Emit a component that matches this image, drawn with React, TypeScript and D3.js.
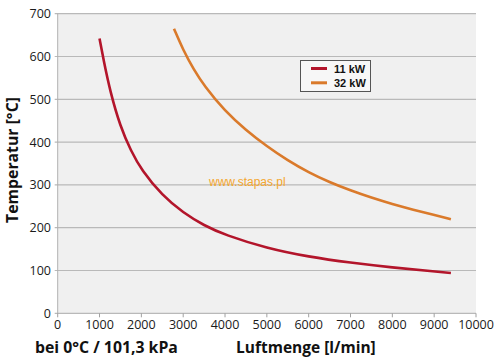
import React from 'react';
import * as d3 from 'd3';

// values
const flow11 = [1000, 1100, 1250, 1500, 1750, 2000, 2500, 3000, 3500, 4000, 5000, 6000, 7000, 8000, 9000, 9400];
const temp11 = [642, 590, 520, 435, 380, 335, 275, 235, 205, 183, 152, 132, 118, 107, 98, 94];
const flow32 = [2780, 3000, 3250, 3500, 4000, 4500, 5000, 5500, 6000, 6500, 7000, 7500, 8000, 8500, 9000, 9400];
const temp32 = [665, 615, 570, 532, 472, 428, 390, 357, 329, 306, 287, 270, 255, 242, 230, 220];
const xTicks = [0, 1000, 2000, 3000, 4000, 5000, 6000, 7000, 8000, 9000, 10000];
const yTicks = [0, 100, 200, 300, 400, 500, 600, 700];
const seriesNames = ['11 kW', '32 kW'];
const seriesColors = ['#b3152b', '#da7a2b'];

const W = 500, H = 362;
const left = 57.7, right = 476, top = 13.7, bottom = 313.3;
const font = "'Open Sans', sans-serif";
const arial = "Arial, 'Liberation Sans', sans-serif";

export default function App() {
  const x = d3.scaleLinear().domain([0, 10000]).range([left, right]);
  const y = d3.scaleLinear().domain([0, 700]).range([bottom, top]);

  const line = d3.line<[number, number]>()
    .x(d => x(d[0]))
    .y(d => y(d[1]))
    .curve(d3.curveBasis);

  const series = [
    flow11.map((q, i) => [q, temp11[i]] as [number, number]),
    flow32.map((q, i) => [q, temp32[i]] as [number, number]),
  ];

  return (
    <svg width={W} height={H} style={{ position: 'absolute', left: 0, top: 0, background: '#fff' }}>
      <rect x={left} y={top} width={right - left} height={bottom - top} fill="#f0f0f0" />
      {yTicks.map(t => (
        <g key={t}>
          <line x1={left - 3} x2={right} y1={y(t)} y2={y(t)} stroke="#b9b9b9" strokeWidth={1.2} />
          <text x={51} y={y(t) + 4.5} textAnchor="end" fontFamily={font} fontSize={12.5} fill="#1a1a1a">{t}</text>
        </g>
      ))}
      <line x1={left} x2={left} y1={top} y2={bottom} stroke="#b0b0b0" strokeWidth={1} />
      {xTicks.map(t => (
        <g key={t}>
          <line x1={x(t)} x2={x(t)} y1={bottom} y2={bottom + 4} stroke="#a0a0a0" strokeWidth={1} />
          <text x={x(t)} y={329} textAnchor="middle" fontFamily={font} fontSize={12.5} fill="#1a1a1a">{t}</text>
        </g>
      ))}

      <text x={209} y={186} fontFamily={arial} fontSize={12} fill="#f4a62e">www.stapas.pl</text>

      {series.map((s, i) => (
        <path key={i} d={line(s) || ''} fill="none" stroke={seriesColors[i]} strokeWidth={2.6} />
      ))}

      <rect x={300.5} y={60.5} width={70} height={31} fill="#f7f7f7" stroke="#555" strokeWidth={1} />
      {seriesNames.map((n, i) => (
        <g key={n}>
          <line x1={311} x2={327} y1={68.5 + i * 14.3} y2={68.5 + i * 14.3} stroke={seriesColors[i]} strokeWidth={3} />
          <text x={334} y={72.5 + i * 14.3} fontFamily={arial} fontWeight="bold" fontSize={11} fill="#111">{n}</text>
        </g>
      ))}

      <text transform="translate(18,160) rotate(-90)" textAnchor="middle" fontFamily={font} fontWeight="bold" fontSize={15.8} fill="#111">Temperatur [°C]</text>
      <text x={35} y={353} fontFamily={font} fontWeight="bold" fontSize={15.8} fill="#111">bei 0°C / 101,3 kPa</text>
      <text x={236} y={353} fontFamily={font} fontWeight="bold" fontSize={15.5} fill="#111">Luftmenge [l/min]</text>
    </svg>
  );
}
